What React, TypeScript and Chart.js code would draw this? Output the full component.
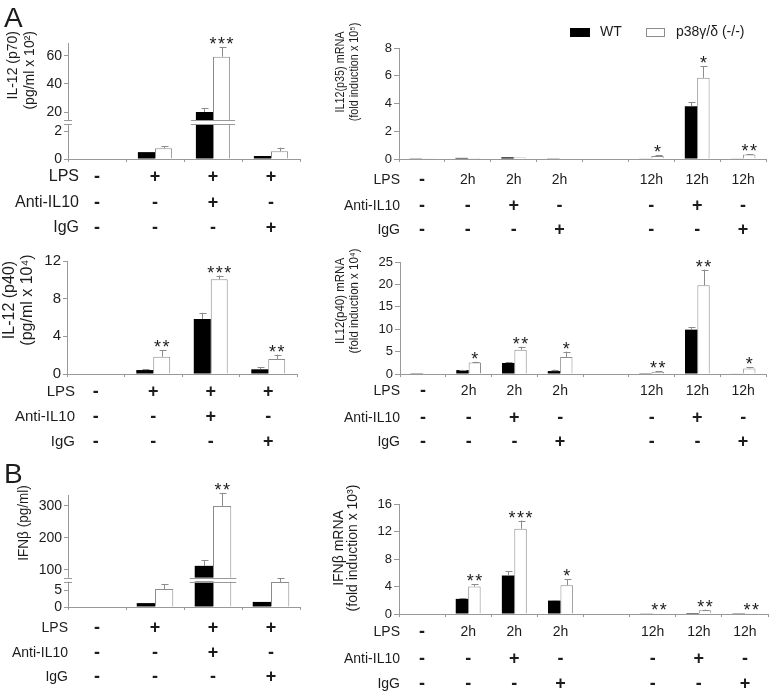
import React, { useEffect, useRef } from "react";
import { Chart, registerables } from "chart.js";
Chart.register(...registerables);

// ---------------- data ----------------
const leftCats = ["ctrl", "LPS", "LPS+antiIL10", "LPS+IgG"];
const rightCats = ["ctrl", "2h", "2h+antiIL10", "2h+IgG", "", "12h", "12h+antiIL10", "12h+IgG"];

const leftLPS = ["-", "+", "+", "+"];
const leftAnti = ["-", "-", "+", "-"];
const leftIgG = ["-", "-", "-", "+"];
const rightLPS = ["-", "2h", "2h", "2h", "", "12h", "12h", "12h"];
const rightAnti = ["-", "-", "+", "-", "", "-", "+", "-"];
const rightIgG = ["-", "-", "-", "+", "", "-", "-", "+"];

// IL-12 (p70) pg/ml x 10^2
const p70WT = [0, 0.5, 20, 0.22];
const p70WTErr = [0, 0, 2.6, 0];
const p70KO = [0, 0.78, 59.5, 0.57];
const p70KOErr = [0, 0.14, 7, 0.26];
const p70Stars = ["", "", "***", ""];
const p70Ticks = [0, 2, 20, 40, 60];

// IL12(p35) mRNA fold induction x 10^5
const p35WT = [0.02, 0.08, 0.12, 0.05, null, 0.03, 3.8, 0.03];
const p35WTErr = [0, 0, 0, 0, 0, 0, 0.28, 0];
const p35KO = [0.02, 0.07, 0.1, 0.03, null, 0.22, 5.85, 0.32];
const p35KOErr = [0, 0, 0, 0, 0, 0.05, 0.85, 0.04];
const p35Stars = ["", "", "", "", "", "*", "*", "**"];
const p35Ticks = [0, 2, 4, 6, 8];

// IL-12 (p40) pg/ml x 10^4
const p40WT = [0, 0.42, 5.85, 0.5];
const p40WTErr = [0, 0.1, 0.65, 0.2];
const p40KO = [0, 1.84, 10.07, 1.6];
const p40KOErr = [0, 0.7, 0.38, 0.45];
const p40Stars = ["", "**", "***", "**"];
const p40Ticks = [0, 4, 8, 12];

// IL12(p40) mRNA fold induction x 10^4
const p40mWT = [0.05, 0.87, 2.46, 0.65, null, 0.05, 9.9, 0.1];
const p40mWTErr = [0, 0.1, 0.25, 0.35, 0, 0, 0.6, 0];
const p40mKO = [0.05, 2.54, 5.4, 3.8, null, 0.5, 19.8, 1.24];
const p40mKOErr = [0, 0.2, 0.7, 1.2, 0, 0.1, 3.5, 0.35];
const p40mStars = ["", "*", "**", "*", "", "**", "**", "*"];
const p40mTicks = [0, 5, 10, 15, 20, 25];

// IFNb pg/ml
const ifnWT = [0, 1.15, 112, 1.5];
const ifnWTErr = [0, 0, 18, 0];
const ifnKO = [0, 5.3, 300, 7.4];
const ifnKOErr = [0, 1.5, 41, 1.2];
const ifnStars = ["", "", "**", ""];
const ifnTicks = [0, 5, 100, 200, 300];

// IFNb mRNA fold induction x 10^3
const ifnmWT = [0, 2.2, 5.6, 1.95, null, 0.05, 0.15, 0.03];
const ifnmWTErr = [0, 0.1, 0.6, 0.1, 0, 0, 0, 0];
const ifnmKO = [0, 4.0, 12.4, 4.2, null, 0.12, 0.55, 0.1];
const ifnmKOErr = [0, 0.3, 1.2, 0.85, 0, 0, 0.1, 0];
const ifnmStars = ["", "**", "***", "*", "", "**", "**", "**"];
const ifnmTicks = [0, 4, 8, 12, 16];

// ---------------- broken-axis transforms ----------------
// lower segment kept in its own units, upper segment compressed
const p70Disp = (v: number) => (v <= 3 ? v : 3.418 + (v - 20) * 0.10182);
const ifnDisp = (v: number) => (v <= 10 ? v : 11.03 + (v - 100) * 0.09412);
const ident = (v: number) => v;

const FONT = "'Liberation Sans', Arial, sans-serif";
const GRAY = "#999999";
const TXT = "#1c1c1c";

type Panel = {
  labels: string[];
  wt: (number | null)[];
  wtErr: number[];
  ko: (number | null)[];
  koErr: number[];
  stars: string[];
  ticks: number[];
  disp: (v: number) => number;
  yMax: number;
  breakDisp?: number;
  breakGroup?: number;
  area: { left: number; top: number; right: number; bottom: number };
  tickFont: number;
  tickLen: number;
  titles: { text: string; x: number }[];
  titleY: number;
  titleAlign: CanvasTextAlign;
  titleFont: number;
  titleScale: number;
  rows: string[][];
  rowY: number[];
  rowLabelX: number;
  rowFont: number;
  catPct: number;
  letter?: { text: string; x: number; y: number };
  legend?: boolean;
};

const ROW_NAMES = ["LPS", "Anti-IL10", "IgG"];

const panels: Panel[] = [
  {
    labels: leftCats, wt: p70WT, wtErr: p70WTErr, ko: p70KO, koErr: p70KOErr, stars: p70Stars,
    ticks: p70Ticks, disp: p70Disp, yMax: 8.436, breakDisp: 2.655, breakGroup: 2,
    area: { left: 68, top: 43, right: 300, bottom: 159 }, tickFont: 14, tickLen: 4,
    titles: [{ text: "IL-12 (p70)", x: 13 }, { text: "(pg/ml x 10²)", x: 30 }], titleY: 31, titleAlign: "right", titleFont: 14, titleScale: 1,
    rows: [leftLPS, leftAnti, leftIgG], rowY: [177, 203, 228], rowLabelX: 79, rowFont: 16, catPct: 0.59,
    letter: { text: "A", x: 4, y: 27 },
  },
  {
    labels: rightCats, wt: p35WT, wtErr: p35WTErr, ko: p35KO, koErr: p35KOErr, stars: p35Stars,
    ticks: p35Ticks, disp: ident, yMax: 8,
    area: { left: 399, top: 48, right: 766, bottom: 159 }, tickFont: 13, tickLen: 5,
    titles: [{ text: "IL12(p35) mRNA", x: 340 }, { text: "(fold induction x 10⁵)", x: 354 }], titleY: 72, titleAlign: "center", titleFont: 13.5, titleScale: 0.8,
    rows: [rightLPS, rightAnti, rightIgG], rowY: [180, 206, 230], rowLabelX: 400, rowFont: 14, catPct: 0.54,
    legend: true,
  },
  {
    labels: leftCats, wt: p40WT, wtErr: p40WTErr, ko: p40KO, koErr: p40KOErr, stars: p40Stars,
    ticks: p40Ticks, disp: ident, yMax: 12,
    area: { left: 67, top: 261, right: 297, bottom: 374 }, tickFont: 15, tickLen: 4,
    titles: [{ text: "IL-12 (p40)", x: 10 }, { text: "(pg/ml x 10⁴)", x: 28 }], titleY: 300, titleAlign: "center", titleFont: 16, titleScale: 1,
    rows: [leftLPS, leftAnti, leftIgG], rowY: [392, 417, 442], rowLabelX: 75, rowFont: 15, catPct: 0.59,
  },
  {
    labels: rightCats, wt: p40mWT, wtErr: p40mWTErr, ko: p40mKO, koErr: p40mKOErr, stars: p40mStars,
    ticks: p40mTicks, disp: ident, yMax: 25,
    area: { left: 400, top: 262, right: 766, bottom: 374 }, tickFont: 13, tickLen: 5,
    titles: [{ text: "IL12(p40) mRNA", x: 340 }, { text: "(fold induction x 10⁴)", x: 354 }], titleY: 301, titleAlign: "center", titleFont: 13.5, titleScale: 0.85,
    rows: [rightLPS, rightAnti, rightIgG], rowY: [391, 418, 442], rowLabelX: 400, rowFont: 14, catPct: 0.54,
  },
  {
    labels: leftCats, wt: ifnWT, wtErr: ifnWTErr, ko: ifnKO, koErr: ifnKOErr, stars: ifnStars,
    ticks: ifnTicks, disp: ifnDisp, yMax: 33.09, breakDisp: 8.09, breakGroup: 2,
    area: { left: 68, top: 495, right: 300, bottom: 607 }, tickFont: 14, tickLen: 4,
    titles: [{ text: "IFNβ (pg/ml)", x: 24 }], titleY: 523, titleAlign: "center", titleFont: 15, titleScale: 0.9,
    rows: [leftLPS, leftAnti, leftIgG], rowY: [628, 653, 677], rowLabelX: 68, rowFont: 14, catPct: 0.63,
    letter: { text: "B", x: 4, y: 483 },
  },
  {
    labels: rightCats, wt: ifnmWT, wtErr: ifnmWTErr, ko: ifnmKO, koErr: ifnmKOErr, stars: ifnmStars,
    ticks: ifnmTicks, disp: ident, yMax: 16,
    area: { left: 399, top: 504, right: 768, bottom: 614 }, tickFont: 13, tickLen: 5,
    titles: [{ text: "IFNβ mRNA", x: 339 }, { text: "(fold induction x 10³)", x: 353 }], titleY: 548, titleAlign: "center", titleFont: 14, titleScale: 1,
    rows: [rightLPS, rightAnti, rightIgG], rowY: [632, 659, 684], rowLabelX: 400, rowFont: 14, catPct: 0.54,
  },
];

const YW = 40;

function extrasPlugin(p: Panel) {
  return {
    id: "extras",
    afterDraw(chart: any) {
      const ctx: CanvasRenderingContext2D = chart.ctx;
      const xs = chart.scales.x;
      const ys = chart.scales.y;
      const ca = chart.chartArea;
      ctx.save();

      // broken axis marks
      if (p.breakDisp !== undefined && p.breakGroup !== undefined) {
        const yb = ys.getPixelForValue(p.breakDisp);
        const w0 = chart.getDatasetMeta(0).data[p.breakGroup];
        const w1 = chart.getDatasetMeta(1).data[p.breakGroup];
        const x1 = w0.x - w0.width / 2 - 5;
        const x2 = w1.x + w1.width / 2 + 5;
        ctx.fillStyle = "#fff";
        ctx.fillRect(x1, yb - 2, x2 - x1, 4);
        ctx.fillRect(ca.left - 4, yb - 2, 8, 4);
        ctx.strokeStyle = "#9a9a9a";
        ctx.lineWidth = 1;
        ctx.beginPath();
        ctx.moveTo(x1, Math.round(yb - 2) + 0.5);
        ctx.lineTo(x2, Math.round(yb - 2) + 0.5);
        ctx.moveTo(x1, Math.round(yb + 2) + 0.5);
        ctx.lineTo(x2, Math.round(yb + 2) + 0.5);
        ctx.moveTo(ca.left - 4, Math.round(yb - 2) + 0.5);
        ctx.lineTo(ca.left + 4, Math.round(yb - 2) + 0.5);
        ctx.moveTo(ca.left - 4, Math.round(yb + 2) + 0.5);
        ctx.lineTo(ca.left + 4, Math.round(yb + 2) + 0.5);
        ctx.stroke();
      }

      // error bars + stars
      const sets = [
        { vals: p.wt, errs: p.wtErr },
        { vals: p.ko, errs: p.koErr },
      ];
      sets.forEach((s, di) => {
        const meta = chart.getDatasetMeta(di);
        meta.data.forEach((el: any, i: number) => {
          const v = s.vals[i];
          const e = s.errs[i];
          if (v == null) return;
          const top = ys.getPixelForValue(p.disp(v));
          let et = top;
          if (e) {
            et = ys.getPixelForValue(p.disp(v + e));
            const cx = Math.round(el.x) + 0.5;
            ctx.strokeStyle = "#8c8c8c";
            ctx.lineWidth = 1;
            ctx.beginPath();
            ctx.moveTo(cx, top);
            ctx.lineTo(cx, et);
            ctx.moveTo(cx - 3, Math.round(et) + 0.5);
            ctx.lineTo(cx + 4, Math.round(et) + 0.5);
            ctx.stroke();
          }
          if (di === 1 && p.stars[i]) {
            const n = p.stars[i].length;
            ctx.fillStyle = TXT;
            ctx.font = `18px ${FONT}`;
            ctx.textAlign = "center";
            ctx.textBaseline = "alphabetic";
            for (let k = 0; k < n; k++) {
              ctx.fillText("*", el.x + (k - (n - 1) / 2) * 8.5, et + 3);
            }
          }
        });
      });

      // condition rows
      ctx.fillStyle = TXT;
      ctx.textBaseline = "middle";
      p.rows.forEach((row, r) => {
        const yy = p.rowY[r];
        ctx.font = `${p.rowFont}px ${FONT}`;
        ctx.textAlign = "right";
        ctx.fillText(ROW_NAMES[r], p.rowLabelX, yy);
        ctx.textAlign = "center";
        row.forEach((sgn, i) => {
          if (!sgn) return;
          const xx = xs.getPixelForValue(i);
          if (sgn === "+" || sgn === "-") {
            ctx.font = `bold 18px ${FONT}`;
            ctx.fillText(sgn, xx, yy);
          } else {
            ctx.font = `${p.rowFont}px ${FONT}`;
            ctx.fillText(sgn, xx, yy);
          }
        });
      });

      // y titles
      ctx.font = `${p.titleFont}px ${FONT}`;
      ctx.textBaseline = "middle";
      p.titles.forEach((t) => {
        ctx.save();
        ctx.translate(t.x, p.titleY);
        ctx.rotate(-Math.PI / 2);
        ctx.scale(p.titleScale, 1);
        ctx.textAlign = p.titleAlign;
        ctx.fillText(t.text, 0, 0);
        ctx.restore();
      });

      // panel letter
      if (p.letter) {
        ctx.font = `28px ${FONT}`;
        ctx.textAlign = "left";
        ctx.textBaseline = "alphabetic";
        ctx.fillText(p.letter.text, p.letter.x, p.letter.y);
      }

      // legend
      if (p.legend) {
        ctx.fillStyle = "#000";
        ctx.fillRect(570, 28, 20, 9);
        ctx.fillStyle = "#fff";
        ctx.fillRect(646, 28, 19, 9);
        ctx.strokeStyle = "#8c8c8c";
        ctx.lineWidth = 1;
        ctx.strokeRect(646.5, 28.5, 18, 8);
        ctx.fillStyle = TXT;
        ctx.font = `14px ${FONT}`;
        ctx.textAlign = "left";
        ctx.textBaseline = "middle";
        ctx.fillText("WT", 600, 32.5);
        ctx.fillText("p38γ/δ (-/-)", 676, 32.5);
      }
      ctx.restore();
    },
  };
}

function PanelChart({ p }: { p: Panel }) {
  const ref = useRef<HTMLCanvasElement | null>(null);
  useEffect(() => {
    if (!ref.current) return;
    const a = p.area;
    const chart = new Chart(ref.current, {
      type: "bar",
      data: {
        labels: p.labels,
        datasets: [
          {
            label: "WT",
            data: p.wt.map((v) => (v == null ? null : p.disp(v))),
            backgroundColor: "#000",
            borderColor: "#000",
            borderWidth: 0,
            categoryPercentage: p.catPct,
            barPercentage: 1,
          },
          {
            label: "p38γ/δ (-/-)",
            data: p.ko.map((v) => (v == null ? null : p.disp(v))),
            backgroundColor: "#fff",
            borderColor: "#8c8c8c",
            borderWidth: 1,
            categoryPercentage: p.catPct,
            barPercentage: 1,
          },
        ],
      },
      options: {
        responsive: false,
        maintainAspectRatio: false,
        animation: false,
        devicePixelRatio: 1,
        layout: {
          padding: { left: a.left - YW, top: a.top, right: 770 - a.right, bottom: 700 - a.bottom },
        },
        plugins: { legend: { display: false }, tooltip: { enabled: false } },
        scales: {
          x: {
            grid: { offset: true, drawOnChartArea: false, drawTicks: true, tickLength: 3, color: GRAY },
            border: { color: GRAY },
            ticks: { display: false },
            afterFit: (ax: any) => {
              ax.height = 0;
            },
          },
          y: {
            min: 0,
            max: p.yMax,
            border: { color: GRAY },
            grid: { drawOnChartArea: false, tickLength: p.tickLen, color: GRAY },
            ticks: {
              color: TXT,
              padding: 2,
              font: { family: FONT, size: p.tickFont },
              callback: (val: any) => {
                const t = p.ticks.find((tv) => Math.abs(p.disp(tv) - Number(val)) < 1e-6);
                return t === undefined ? "" : String(t);
              },
            },
            afterBuildTicks: (ax: any) => {
              ax.ticks = p.ticks.map((tv) => ({ value: p.disp(tv) }));
            },
            afterFit: (ax: any) => {
              ax.width = YW;
            },
          },
        },
      } as any,
      plugins: [extrasPlugin(p)],
    });
    return () => chart.destroy();
  }, [p]);
  return (
    <canvas
      ref={ref}
      width={770}
      height={700}
      style={{ position: "absolute", left: 0, top: 0, width: 770, height: 700 }}
    />
  );
}

export default function App() {
  return (
    <div style={{ position: "absolute", left: 0, top: 0, width: 770, height: 700, background: "#fff" }}>
      {panels.map((p, i) => (
        <PanelChart key={i} p={p} />
      ))}
    </div>
  );
}
